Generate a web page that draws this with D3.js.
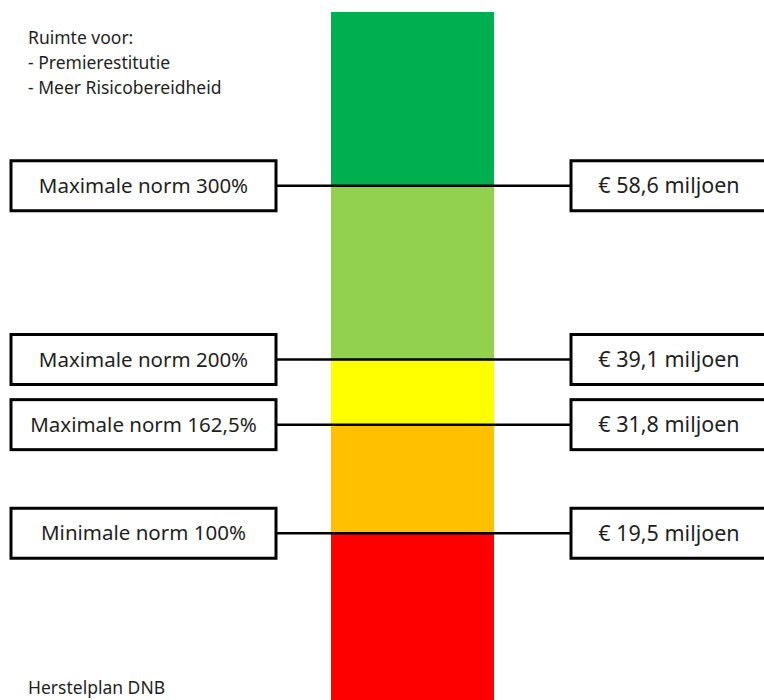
<!DOCTYPE html>
<html>
<head>
<meta charset="utf-8">
<script src="https://cdn.jsdelivr.net/npm/d3@7"></script>
<style>
  body { margin: 0; background: #fff; }
  text { font-family: "Noto Sans", sans-serif; fill: #1f1f1f; }
</style>
</head>
<body>
<div id="chart"></div>
<script>
// band edges (dekkingsgraad %) and colours from bottom to top
var bandEdges = [0, 100, 162.5, 200, 300, 400];
var bandColors = ["#FF0000", "#FFC000", "#FFFF00", "#92D050", "#00B050"];

// norm lines
var norms = [300, 200, 162.5, 100];
var normLabels = ["Maximale norm 300%", "Maximale norm 200%", "Maximale norm 162,5%", "Minimale norm 100%"];
var amountLabels = ["€ 58,6 miljoen", "€ 39,1 miljoen", "€ 31,8 miljoen", "€ 19,5 miljoen"];

var topNotes = ["Ruimte voor:", "- Premierestitutie", "- Meer Risicobereidheid"];
var bottomNote = "Herstelplan DNB";

var width = 764, height = 700;

var svg = d3.select("#chart").append("svg")
  .attr("width", width)
  .attr("height", height);

// vertical scale for the coloured bar
var y = d3.scaleLinear()
  .domain([0, 400])
  .range([707, 12]);

var barX = 331, barW = 163;

// coloured bands
svg.append("g")
  .selectAll("rect")
  .data(bandColors)
  .enter()
  .append("rect")
  .attr("x", barX)
  .attr("width", barW)
  .attr("y", function(d, i) { return y(bandEdges[i + 1]); })
  .attr("height", function(d, i) { return y(bandEdges[i]) - y(bandEdges[i + 1]); })
  .attr("fill", function(d) { return d; });

var boxH = 50;
var leftX = 11, leftW = 265;
var rightX = 571, rightW = 200;

var rows = svg.append("g")
  .selectAll("g")
  .data(norms)
  .enter()
  .append("g")
  .attr("transform", function(d) { return "translate(0," + y(d) + ")"; });

// connecting line across the bar
rows.append("line")
  .attr("x1", leftX + leftW)
  .attr("x2", rightX)
  .attr("y1", 0)
  .attr("y2", 0)
  .attr("stroke", "#000")
  .attr("stroke-width", 2.5);

rows.append("rect")
  .attr("x", leftX)
  .attr("y", -boxH / 2)
  .attr("width", leftW)
  .attr("height", boxH)
  .attr("fill", "#fff")
  .attr("stroke", "#000")
  .attr("stroke-width", 3);

rows.append("rect")
  .attr("x", rightX)
  .attr("y", -boxH / 2)
  .attr("width", rightW)
  .attr("height", boxH)
  .attr("fill", "#fff")
  .attr("stroke", "#000")
  .attr("stroke-width", 3);

rows.append("text")
  .attr("x", leftX + leftW / 2)
  .attr("y", 0)
  .attr("dy", "0.35em")
  .attr("text-anchor", "middle")
  .style("font-size", "20.5px")
  .text(function(d, i) { return normLabels[i]; });

rows.append("text")
  .attr("x", 669)
  .attr("y", 0)
  .attr("dy", "0.35em")
  .attr("text-anchor", "middle")
  .style("font-size", "21.5px")
  .text(function(d, i) { return amountLabels[i]; });

// notes
svg.append("g")
  .selectAll("text")
  .data(topNotes)
  .enter()
  .append("text")
  .attr("x", 28)
  .attr("y", function(d, i) { return 44 + i * 25; })
  .style("font-size", "17.5px")
  .text(function(d) { return d; });

svg.append("text")
  .attr("x", 28)
  .attr("y", 694)
  .style("font-size", "17.5px")
  .text(bottomNote);
</script>
</body>
</html>
